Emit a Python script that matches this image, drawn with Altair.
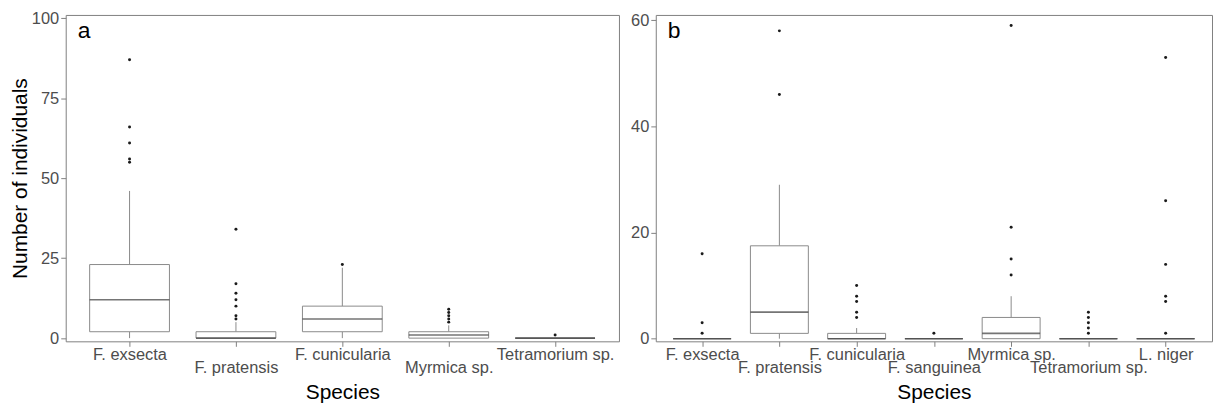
import altair as alt
import pandas as pd

# ---------------- Panel a data ----------------
species_a = ["F. exsecta", "F. pratensis", "F. cunicularia", "Myrmica sp.", "Tetramorium sp."]
q1_a = [2, 0, 2, 0, 0]
median_a = [12, 0, 6, 1, 0]
q3_a = [23, 2, 10, 2, 0]
whisker_low_a = [0, 0, 0, 0, 0]
whisker_high_a = [46, 5, 22, 4, 0]
outliers_a = [
    [55, 56, 61, 66, 87],
    [6, 7, 10, 12, 14, 17, 34],
    [23],
    [5, 6, 7, 8, 9],
    [1],
]

# ---------------- Panel b data ----------------
species_b = ["F. exsecta", "F. pratensis", "F. cunicularia", "F. sanguinea",
             "Myrmica sp.", "Tetramorium sp.", "L. niger"]
q1_b = [0, 1, 0, 0, 0, 0, 0]
median_b = [0, 5, 0, 0, 1, 0, 0]
q3_b = [0, 17.5, 1, 0, 4, 0, 0]
whisker_low_b = [0, 0, 0, 0, 0, 0, 0]
whisker_high_b = [0, 29, 2, 0, 8, 0, 0]
outliers_b = [
    [1, 3, 16],
    [46, 58],
    [4, 5, 7, 8, 10],
    [1],
    [12, 15, 21, 59],
    [1, 2, 3, 4, 5],
    [1, 7, 8, 14, 26, 53],
]

FONT = "Liberation Sans"
BOX_STROKE = "#8a8a8a"
MEDIAN_COLOR = "#3a3a3a"
FRAME = "#808080"
LABEL_SIZE = 16.5
TITLE_SIZE = 21


def panel(species, q1, med, q3, wlo, whi, outs, ydomain, yticks, width, height,
          letter, odd_labels, ytitle):
    stats = pd.DataFrame({"species": species, "q1": q1, "median": med, "q3": q3,
                          "lo": wlo, "hi": whi})
    pts = pd.DataFrame([{"species": s, "value": v} for s, vals in zip(species, outs) for v in vals])
    step = width / (len(species) - 1 + 1.2)
    box_w = 0.75 * step

    odd_list = "[" + ",".join("'" + s + "'" for s in odd_labels) + "]"
    xaxis = alt.Axis(
        title="Species", labelAngle=0, domain=False, grid=False,
        labelExpr=f"indexof({odd_list}, datum.label) >= 0 ? ['\u00a0', datum.label] : datum.label",
        labelLineHeight=13, labelPadding=0, tickSize=5, tickColor=FRAME,
        labelColor="#4d4d4d", labelFontSize=LABEL_SIZE, labelFont=FONT,
        titleFont=FONT, titleFontSize=TITLE_SIZE, titleFontWeight="normal", titleColor="#000000",
        titlePadding=6,
    )
    yaxis_kwargs = dict(
        values=yticks, domain=False, grid=False, tickSize=5, tickColor=FRAME,
        labelColor="#4d4d4d", labelFontSize=LABEL_SIZE, labelFont=FONT, labelPadding=2,
        titleFont=FONT, titleFontSize=TITLE_SIZE, titleFontWeight="normal", titleColor="#000000",
        titlePadding=1,
    )
    if ytitle:
        yaxis = alt.Axis(title=ytitle, **yaxis_kwargs)
    else:
        yaxis = alt.Axis(title=None, **yaxis_kwargs)

    xenc = alt.X("species:N", scale=alt.Scale(type="point", domain=species, padding=0.6),
                 axis=xaxis)
    yscale = alt.Scale(domain=ydomain, nice=False, zero=False)

    base = alt.Chart(stats)
    upper = base.mark_rule(color=BOX_STROKE, strokeWidth=1).encode(
        x=xenc, y=alt.Y("q3:Q", scale=yscale, axis=yaxis), y2="hi:Q")
    lower = base.mark_rule(color=BOX_STROKE, strokeWidth=1).encode(
        x=xenc, y=alt.Y("lo:Q", scale=yscale, axis=yaxis), y2="q1:Q")
    box = base.mark_bar(size=box_w, fill="white", stroke=BOX_STROKE, strokeWidth=1).encode(
        x=xenc, y=alt.Y("q1:Q", scale=yscale, axis=yaxis), y2="q3:Q")
    median = base.mark_tick(size=box_w, thickness=1.6, color=MEDIAN_COLOR, orient="horizontal").encode(
        x=xenc, y=alt.Y("median:Q", scale=yscale, axis=yaxis))
    outl = alt.Chart(pts).mark_circle(size=9, color="#1a1a1a", opacity=1).encode(
        x=xenc, y=alt.Y("value:Q", scale=yscale, axis=yaxis))
    lab = alt.Chart(pd.DataFrame({"lab": [letter]})).mark_text(
        align="left", baseline="alphabetic", fontSize=23, font=FONT, color="#000000").encode(
        text="lab:N", x=alt.value(12), y=alt.value(23))
    return alt.layer(upper, lower, box, median, outl, lab).properties(width=width, height=height)


pa = panel(species_a, q1_a, median_a, q3_a, whisker_low_a, whisker_high_a, outliers_a,
           [-1, 101], [0, 25, 50, 75, 100], 556, 328, "a",
           ["F. pratensis", "Myrmica sp."], "Number of individuals")
pb = panel(species_b, q1_b, median_b, q3_b, whisker_low_b, whisker_high_b, outliers_b,
           [-0.5, 61], [0, 20, 40, 60], 559, 328, "b",
           ["F. pratensis", "F. sanguinea", "Tetramorium sp."], None)

chart = alt.hconcat(pa, pb, spacing=10).properties(
    padding={"left": 0, "top": 0, "right": 0, "bottom": 0},
    background="white",
).configure_view(stroke=FRAME, strokeWidth=1).configure_concat(spacing=10)

chart.save("out.html", embed_options={"renderer": "svg", "actions": False})
